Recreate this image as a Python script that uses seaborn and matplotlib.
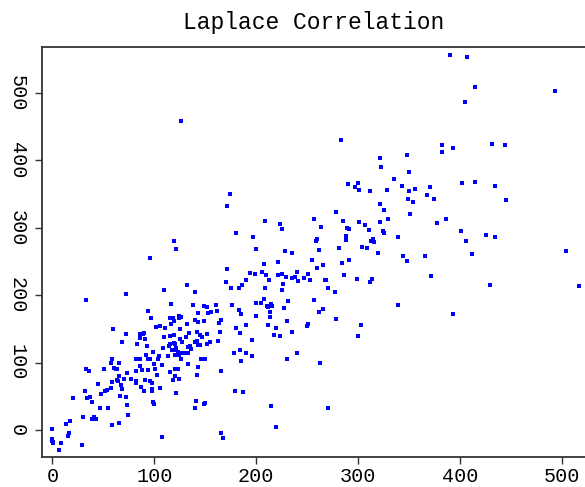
import matplotlib
matplotlib.use("Agg")
import matplotlib.pyplot as plt
import seaborn as sns
import pandas as pd

# Paired samples: x = first measure, y = second measure
x_vals = [
    119, 121, 96, 132, 140, 110, 72, 33, 116, 138, 149, 152, 161, 143, 153, 156, 162, 94, 97, 115,
    118, 124, 126, 124, 119, 140, 143, 149, 164, 166, 59, 102, 106, 111, 116, 125, 132, 142, 165, 72,
    86, 89, 90, 110, 115, 119, 125, 131, 134, 145, 147, 152, 163, 68, 86, 91, 83, 93, 115, 119,
    120, 127, 140, 142, 143, 145, 152, 155, 109, 114, 117, 119, 121, 123, 127, 129, 133, 135, 136, 133,
    99, 92, 105, 113, 120, 124, 126, 58, 82, 86, 94, 96, 104, 57, 65, 100, 108, 133, 146, 150,
    86, 60, 62, 63, 33, 36, 51, 82, 88, 94, 101, 120, 123, 115, 143, 166, 65, 73, 103, 120,
    142, 70, 77, 63, 64, 82, 82, 91, 96, 98, 118, 124, 45, 58, 67, 87, 68, 57, 54, 52,
    32, 90, 98, 98, 106, 48, 121, 66, 20, 34, 37, 72, 39, 141, 99, 100, 73, 149, 150, 47,
    55, 140, 74, 30, 39, 41, 43, 17, 13, 65, 58, 0, 16, 15, 166, 167, 108, 0, 0, 1,
    1, 8, 29, 6, 290, 300, 297, 301, 312, 329, 343, 174, 171, 322, 326, 278, 330, 257, 209, 223,
    225, 285, 301, 307, 322, 264, 289, 291, 311, 325, 326, 180, 197, 288, 288, 260, 259, 339, 313, 315,
    316, 304, 309, 281, 200, 262, 320, 228, 235, 344, 255, 291, 284, 221, 208, 266, 260, 171, 194, 199,
    206, 210, 221, 225, 229, 240, 235, 238, 241, 251, 247, 253, 286, 190, 186, 183, 175, 213, 170, 268,
    269, 299, 314, 312, 226, 209, 225, 271, 277, 208, 200, 205, 231, 257, 215, 216, 211, 212, 176, 227,
    339, 183, 185, 214, 266, 262, 200, 214, 278, 180, 190, 212, 220, 230, 250, 251, 303, 184, 218, 223,
    235, 300, 196, 178, 184, 190, 196, 185, 240, 230, 263, 179, 187, 215, 271, 220, 283, 322, 323, 335,
    390, 407, 415, 494, 405, 383, 383, 393, 432, 444, 348, 350, 356, 371, 402, 415, 435, 350, 368, 375,
    349, 354, 445, 351, 378, 386, 401, 406, 426, 435, 412, 366, 348, 504, 372, 430, 517, 393, 126,
]
y_vals = [
    281, 268, 255, 215, 205, 208, 202, 193, 187, 185, 184, 183, 186, 174, 173, 175, 176, 176, 166, 166,
    166, 169, 168, 166, 162, 163, 160, 162, 159, 163, 150, 153, 154, 152, 157, 150, 158, 146, 146, 142,
    143, 143, 144, 138, 139, 141, 135, 138, 144, 141, 138, 143, 132, 131, 136, 135, 128, 125, 128, 129,
    127, 131, 130, 132, 126, 126, 128, 130, 122, 125, 119, 119, 122, 116, 114, 114, 123, 124, 120, 114,
    116, 112, 110, 110, 111, 111, 105, 106, 106, 106, 106, 106, 105, 99, 99, 98, 96, 98, 105, 106,
    95, 92, 91, 91, 90, 88, 91, 87, 89, 89, 90, 91, 91, 86, 93, 88, 80, 84, 81, 80,
    82, 76, 75, 74, 72, 72, 70, 74, 72, 70, 74, 75, 69, 71, 67, 64, 61, 62, 60, 58,
    58, 58, 61, 58, 63, 53, 55, 51, 47, 47, 49, 49, 41, 43, 41, 38, 37, 38, 40, 33,
    32, 32, 23, 19, 17, 19, 17, 14, 9, 11, 7, 1, -4, -9, -4, -12, -11, -14, -17, -18,
    -20, -20, -23, -29, 365, 367, 360, 356, 354, 356, 362, 350, 332, 336, 327, 324, 313, 313, 310, 305,
    298, 310, 308, 304, 309, 301, 300, 298, 297, 295, 292, 292, 286, 288, 282, 283, 280, 287, 281, 283,
    279, 272, 270, 270, 269, 267, 263, 265, 262, 258, 252, 252, 248, 250, 247, 245, 241, 239, 233, 231,
    234, 230, 230, 232, 227, 234, 226, 227, 221, 231, 225, 222, 230, 223, 215, 211, 210, 222, 220, 222,
    223, 224, 224, 219, 217, 211, 208, 211, 205, 195, 189, 189, 191, 193, 187, 184, 184, 183, 186, 181,
    185, 178, 172, 175, 179, 175, 169, 168, 165, 152, 156, 156, 152, 162, 155, 157, 156, 144, 141, 140,
    145, 140, 134, 114, 118, 114, 110, 103, 114, 105, 100, 58, 56, 36, 32, 5, 431, 403, 391, 372,
    556, 554, 509, 503, 487, 423, 412, 418, 424, 423, 408, 383, 358, 360, 367, 368, 362, 354, 349, 343,
    343, 339, 341, 321, 307, 313, 296, 281, 289, 286, 261, 258, 251, 266, 228, 215, 213, 172, 458,
]

title_text = "Laplace Correlation"
x_ticks = [0, 100, 200, 300, 400, 500]
y_ticks = [0, 100, 200, 300, 400, 500]

df = pd.DataFrame({"x": x_vals, "y": y_vals})

sns.set_style("ticks")
plt.rcParams["font.family"] = ["Liberation Mono", "DejaVu Sans"]

fig = plt.figure(figsize=(5.85, 4.87), dpi=100)
ax = fig.add_axes([0.0723, 0.061, 0.9277, 0.843])

sns.scatterplot(data=df, x="x", y="y", ax=ax, marker="s", s=6,
                color="blue", linewidth=0, legend=False)

ax.set_xlim(-10, 523)
ax.set_ylim(-40.5, 568.7)
ax.set_xticks(x_ticks)
ax.set_yticks(y_ticks)
ax.set_xlabel("")
ax.set_ylabel("")

for side in ("left", "bottom", "top"):
    ax.spines[side].set_color("#333333")
    ax.spines[side].set_linewidth(1.3)
ax.spines["right"].set_visible(False)

ax.tick_params(axis="both", direction="out", length=5, width=1.0,
               color="#333333", labelsize=14.5, labelcolor="black")
ax.tick_params(axis="x", pad=2, top=False)
ax.tick_params(axis="y", pad=6, labelrotation=-90, right=False)
for lbl in ax.get_yticklabels():
    lbl.set_verticalalignment("center")

ax.set_title(title_text, fontsize=16.5, pad=13, color="black")

fig.savefig("out.png", dpi=100)
